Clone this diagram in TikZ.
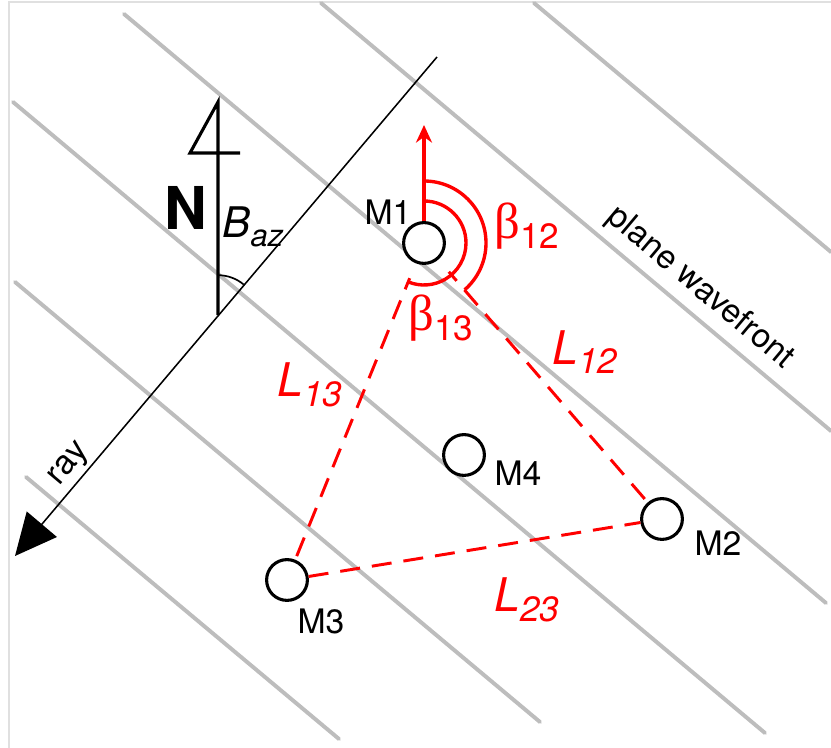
\documentclass[tikz,border=0pt]{standalone}
\usepackage{fontspec}
\setmainfont{TeX Gyre Heros}
\newfontfamily\greekfont{Liberation Serif}
\usetikzlibrary{arrows.meta,positioning,calc}
\definecolor{wavegray}{gray}{0.74}
\definecolor{framegray}{gray}{0.88}
\newcommand{\sublbl}[3]{{\fontsize{#3}{18}\selectfont #1}\raisebox{-1.2mm}{\fontsize{12.5}{14}\selectfont #2}}
\tikzset{
  frame/.style={draw=framegray, line width=0.6pt},
  wave/.style={draw=wavegray, line width=1.4pt, line cap=round},
  raypath/.style={line width=0.55pt, -{Triangle[length=5.2mm, width=4.9mm]}},
  northline/.style={line width=1.1pt},
  mic/.style={circle, draw=black, fill=white, line width=1.1pt, minimum size=5.1mm, inner sep=0pt},
  miclabel/.style={font=\fontsize{12}{14}\selectfont, inner sep=0pt},
  redarc/.style={red, line width=1.2pt},
  redarrow/.style={red, line width=1.2pt, -{Stealth[length=2.2mm, width=2mm]}},
  dashline/.style={red, line width=1.05pt, dash pattern=on 2.5mm off 1.5mm},
  redlabel/.style={red, inner sep=0pt}
}
\begin{document}
\begin{tikzpicture}
  \useasboundingbox (0,0) rectangle (10.3875,9.35);
  % frame and wavefronts
  \draw[frame] (0.11,0) -- (0.11,9.325) -- (10.3875,9.325);
  \foreach \a/\b in {{6.675,9.3125}/{10.3875,6.2},{4.0125,9.3125}/{10.3875,3.9625},
                     {1.55,9.175}/{10.325,1.8125},{0.1625,8.075}/{9.5625,0.1875},
                     {0.1875,5.8250}/{6.75,0.325},{0.325,3.3875}/{4.2375,0.1125}}
    \draw[wave] (\a) -- (\b);

  % ray and north
  \coordinate (raytop) at (5.4625,8.6375);
  \coordinate (raytip) at (0.1875,2.4);
  \coordinate (nfoot) at (2.725,5.41);
  \coordinate (ntop) at (2.725,8.075);
  \draw[raypath] (raytop) -- (raytip);
  \draw[northline] (nfoot) -- (ntop) -- (2.375,7.4375) -- (3.0,7.4375);
  \draw[line width=0.6pt] ([shift={(90:0.5)}]nfoot) arc[start angle=90, end angle=50, radius=0.5];
  \node[inner sep=0pt, font=\fontsize{21}{24}\selectfont\bfseries] (nlbl) at (2.325,6.75) {N};
  \node[inner sep=0pt] (baz) at (3.1625,6.5125) {\itshape\sublbl{B}{\fontsize{11}{13}\selectfont az}{15}};
  \node[rotate=50, inner sep=0pt, font=\fontsize{12}{14}\selectfont] (raylbl) at (0.875,3.5375) {ray};
  \node[rotate=-40, inner sep=0pt, font=\fontsize{11.8}{14}\selectfont] (wavelbl) at (8.75,5.75) {plane wavefront};

  % microphones
  \node[mic] (m1) at (5.3,6.3125) {};
  \node[mic] (m2) at (8.275,2.8625) {};
  \node[mic] (m3) at (3.5875,2.1) {};
  \node[mic] (m4) at (5.8,3.6625) {};
  \draw[dashline, dash phase=1mm] ($(m1.center)!0.475cm!(m2.center)$) -- (m2);
  \draw[dashline, dash phase=1mm] ($(m1.center)!0.475cm!(m3.center)$) -- (m3);
  \draw[dashline] (m3) -- (m2);
  \node[miclabel] at (4.85,6.7) {M1};
  \node[miclabel] at (8.975,2.5625) {M2};
  \node[miclabel] at (4.0125,1.5875) {M3};
  \node[miclabel] at (6.475,3.4375) {M4};

  % angles at M1
  \coordinate (m1up) at (5.3,7.7875);
  \draw[redarrow] (m1.north) -- (m1up);
  \draw[redarc] ([shift={(90:0.775)}]m1.center) arc[start angle=90, end angle=-49, radius=0.775];
  \draw[redarc] ([shift={(90:0.525)}]m1.center) arc[start angle=90, end angle=-112, radius=0.525];
  \node[redlabel] at (6.5875,6.525) {\greekfont\sublbl{β}{\fontspec{TeX Gyre Heros}\fontsize{12.5}{14}\selectfont 12}{18}};
  \node[redlabel] at (5.5125,5.375) {\greekfont\sublbl{β}{\fontspec{TeX Gyre Heros}\fontsize{12.5}{14}\selectfont 13}{18}};
  \node[redlabel] at (7.3125,4.95) {\itshape\sublbl{L}{12}{16.5}};
  \node[redlabel] at (3.875,4.5375) {\itshape\sublbl{L}{13}{16.5}};
  \node[redlabel] at (6.5875,1.85) {\itshape\sublbl{L}{23}{16.5}};
\end{tikzpicture}
\end{document}
